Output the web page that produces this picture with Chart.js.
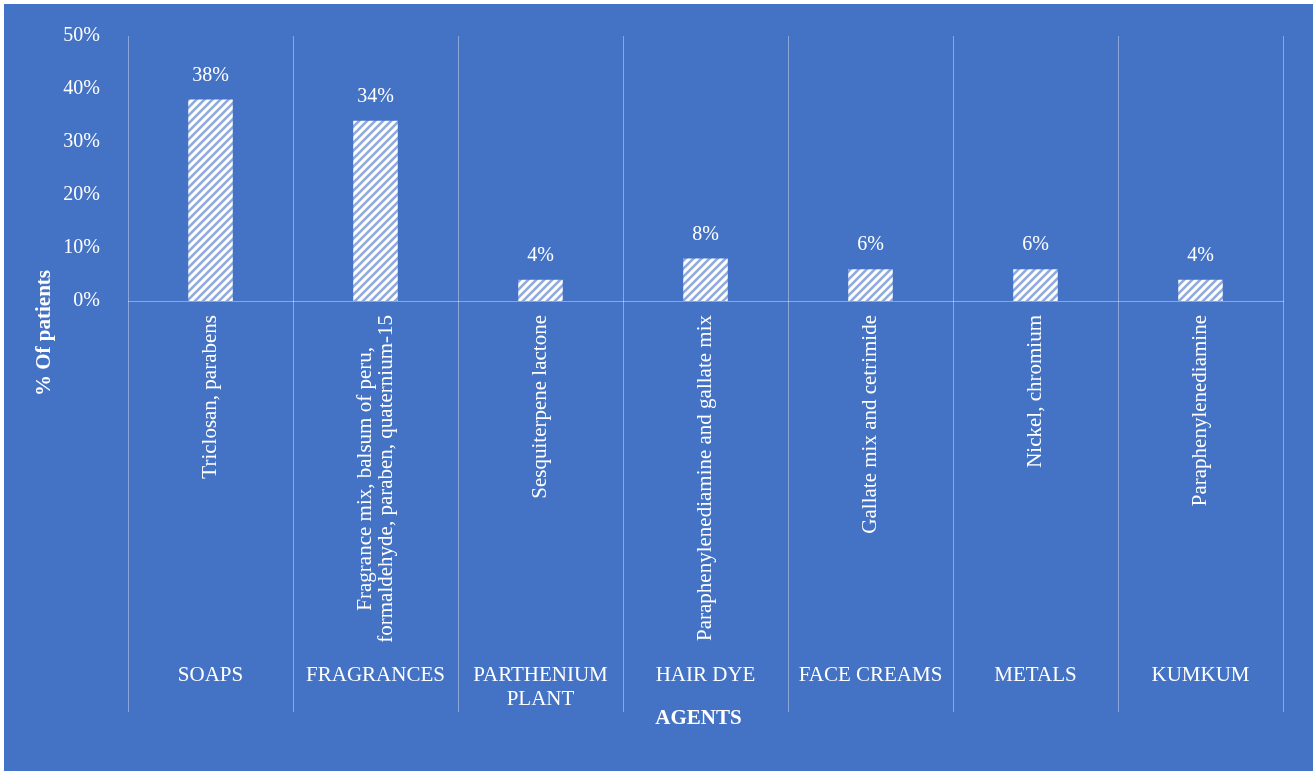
<!DOCTYPE html>
<html>
<head>
<meta charset="utf-8">
<script src="https://cdn.jsdelivr.net/npm/chart.js@4.4.1/dist/chart.umd.min.js"></script>
<style>
  html, body { margin: 0; padding: 0; background: #fff; }
  #wrap { position: absolute; left: 4px; top: 4px; width: 1309px; height: 767px; background: #4472C4; }
</style>
</head>
<body>
<div id="wrap"><canvas id="chart"></canvas></div>
<script>
// categories (outer level) and agents (inner level)
const groups = ['SOAPS', 'FRAGRANCES', ['PARTHENIUM', 'PLANT'], 'HAIR DYE', 'FACE CREAMS', 'METALS', 'KUMKUM'];
const agents = [
    'Triclosan, parabens',
    ['Fragrance mix, balsum of peru,', 'formaldehyde, paraben, quaternium-15'],
    'Sesquiterpene lactone',
    'Paraphenylenediamine and gallate mix',
    'Gallate mix and cetrimide',
    'Nickel, chromium',
    'Paraphenylenediamine'
];
const patients = [38, 34, 4, 8, 6, 6, 4];
const yTicks = [0, 10, 20, 30, 40, 50];

const lineColor = 'rgba(255,255,255,0.38)';
const serif = "'Liberation Serif', 'Times New Roman', serif";

// hatch pattern for the bars (wide upward diagonal)
function hatch(){
    let c = document.createElement('canvas');
    c.width = 8; c.height = 8;
    let g = c.getContext('2d');
    g.fillStyle = '#ffffff';
    g.fillRect(0, 0, 8, 8);
    g.strokeStyle = 'rgba(68,114,196,0.6)';
    g.lineWidth = 2.6;
    g.beginPath();
    g.moveTo(-2, 10); g.lineTo(10, -2);
    g.moveTo(-6, 6); g.lineTo(6, -6);
    g.moveTo(2, 14); g.lineTo(14, 2);
    g.stroke();
    return g.createPattern(c, 'repeat');
}

// category separators running from the top of the plot down through both label rows
const sepLines = {
    id: 'sepLines',
    beforeDatasetsDraw(chart){
        let x = chart.scales.x, x2 = chart.scales.x2, ctx = chart.ctx;
        let n = agents.length;
        let w = (x.right - x.left) / n;
        ctx.save();
        ctx.strokeStyle = lineColor;
        ctx.lineWidth = 1;
        ctx.beginPath();
        for(let i = 0; i <= n; i++){
            let px = Math.round(x.getPixelForValue(i) - w / 2) + 0.5;
            ctx.moveTo(px, chart.chartArea.top);
            ctx.lineTo(px, x2.bottom);
        }
        ctx.stroke();
        ctx.restore();
    }
}

// rotated agent labels, lines centred on each other, block ending just under the axis
const agentLabels = {
    id: 'agentLabels',
    afterDraw(chart){
        let x = chart.scales.x, ctx = chart.ctx;
        let lh = 21;
        ctx.save();
        ctx.fillStyle = '#ffffff';
        ctx.font = '21px ' + serif;
        ctx.textAlign = 'center';
        ctx.textBaseline = 'middle';
        agents.forEach((lab, i) => {
            let lines = Array.isArray(lab) ? lab : [lab];
            let maxW = Math.max(...lines.map(l => ctx.measureText(l).width));
            let px = x.getPixelForValue(i);
            lines.forEach((l, j) => {
                ctx.save();
                ctx.translate(px + (j - (lines.length - 1) / 2) * lh, x.top + 14 + maxW / 2);
                ctx.rotate(-Math.PI / 2);
                ctx.fillText(l, 0, 0);
                ctx.restore();
            });
        });
        ctx.restore();
    }
}

// value labels above bars
const valueLabels = {
    id: 'valueLabels',
    afterDatasetsDraw(chart){
        let ctx = chart.ctx;
        ctx.save();
        ctx.fillStyle = '#ffffff';
        ctx.font = '20px ' + serif;
        ctx.textAlign = 'center';
        ctx.textBaseline = 'middle';
        chart.getDatasetMeta(0).data.forEach((bar, i) => {
            ctx.fillText(patients[i] + '%', bar.x, bar.y - 24);
        });
        ctx.restore();
    }
}

// axis titles
const titles = {
    id: 'titles',
    afterDraw(chart){
        let ctx = chart.ctx, a = chart.chartArea;
        ctx.save();
        ctx.fillStyle = '#ffffff';
        ctx.font = 'bold 21px ' + serif;
        ctx.textAlign = 'center';
        ctx.textBaseline = 'middle';
        ctx.fillText('AGENTS', (a.left + a.right) / 2 - 7, chart.scales.x2.bottom + 7);
        ctx.translate(41, 329);
        ctx.rotate(-Math.PI / 2);
        ctx.fillText('% Of patients', 0, 0);
        ctx.restore();
    }
}

new Chart(document.getElementById('chart'), {
    type: 'bar',
    data: {
        labels: agents,
        datasets: [{
            data: patients,
            backgroundColor: hatch(),
            borderWidth: 0,
            categoryPercentage: 1,
            barPercentage: 0.27
        }]
    },
    options: {
        responsive: true,
        maintainAspectRatio: false,
        animation: false,
        events: [],
        layout: { padding: { top: 31, right: 30, bottom: 59, left: 0 } },
        plugins: { legend: { display: false }, tooltip: { enabled: false } },
        scales: {
            y: {
                min: 0, max: 50,
                afterFit(s){ s.width = 124; },
                afterBuildTicks(s){ s.ticks = yTicks.map(v => ({ value: v })); },
                grid: { display: false },
                border: { display: false },
                ticks: {
                    color: '#ffffff',
                    font: { family: serif, size: 20 },
                    padding: 20,
                    callback: v => v + '%'
                }
            },
            x: {
                weight: 0,
                offset: true,
                afterFit(s){ s.height = 350; },
                grid: { display: false, drawTicks: false },
                border: { display: true, color: lineColor, width: 1 },
                ticks: { display: false }
            },
            x2: {
                type: 'category',
                position: 'bottom',
                labels: groups,
                weight: 1,
                offset: true,
                afterFit(s){ s.height = 61; },
                grid: { display: false, drawTicks: false },
                border: { display: false },
                ticks: {
                    color: '#ffffff',
                    font: { family: serif, size: 21, lineHeight: 1.12 },
                    maxRotation: 0, minRotation: 0,
                    autoSkip: false,
                    padding: 13
                }
            }
        }
    },
    plugins: [sepLines, agentLabels, valueLabels, titles]
});
</script>
</body>
</html>
